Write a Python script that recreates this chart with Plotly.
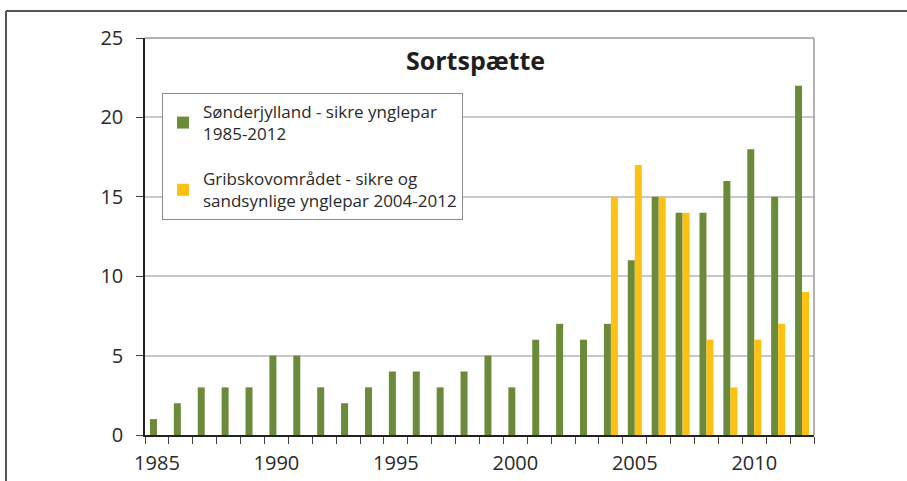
import plotly.graph_objects as go

years = list(range(1985, 2013))
sonderjylland = [1, 2, 3, 3, 3, 5, 5, 3, 2, 3, 4, 4, 3, 4, 5, 3, 6, 7, 6, 7, 11, 15, 14, 14, 16, 18, 15, 22]
gribskov_years = list(range(2004, 2013))
gribskov_vals = [15, 17, 15, 14, 6, 3, 6, 7, 9]
gribskov = [None] * (len(years) - len(gribskov_vals)) + gribskov_vals

x_tick_labels = [1985, 1990, 1995, 2000, 2005, 2010]
y_ticks = [0, 5, 10, 15, 20, 25]

name1 = "Sønderjylland - sikre ynglepar<br>1985-2012"
name2 = "Gribskovområdet - sikre og<br>sandsynlige ynglepar 2004-2012"
title_text = "Sortspætte"

GREEN = "#6b8a3a"
YELLOW = "#fdc113"
FONT = "Open Sans"
TXT = "#2a2a2a"

fig = go.Figure()
fig.add_trace(go.Bar(x=years, y=sonderjylland, name=name1, marker=dict(color=GREEN, line=dict(width=0)), legendgroup="a"))
fig.add_trace(go.Bar(x=years, y=gribskov, name=name2, marker=dict(color=YELLOW, line=dict(width=0)), legendgroup="b"))

L, R, T, B = 145, 93, 38, 46
W, H = 907, 481
pw, ph = W - L - R, H - T - B

def px(xp):
    return (xp - L) / pw

def py(yp):
    return 1 - (yp - T) / ph

fig.update_layout(
    width=W, height=H,
    margin=dict(l=L, r=R, t=T, b=B, pad=0, autoexpand=False),
    paper_bgcolor="white", plot_bgcolor="white",
    barmode="group", bargap=0.414, bargroupgap=0,
    font=dict(family=FONT, color=TXT, size=18),
    showlegend=True,
    legend=dict(
        x=px(162), y=py(93), xanchor="left", yanchor="top",
        bordercolor="#8a8a8a", borderwidth=1, bgcolor="white",
        font=dict(family=FONT, size=17, color=TXT),
        traceorder="grouped", tracegroupgap=20,
    ),
    xaxis=dict(
        range=[min(years) - 0.5, max(years) + 0.5],
        tickmode="array", tickvals=x_tick_labels, ticktext=[str(v) for v in x_tick_labels],
        ticks="outside", ticklen=0, tickcolor="#444",
        showline=True, linecolor="#222", linewidth=1.5,
        showgrid=False, zeroline=False, automargin=False,
        tickfont=dict(size=20, color=TXT),
        ticklabelstandoff=9,
        minor=dict(tickmode="linear", tick0=min(years) - 0.5, dtick=1, ticks="outside", ticklen=7, tickcolor="#444", showgrid=False),
    ),
    yaxis=dict(
        range=[0, 25], tickmode="array", tickvals=y_ticks,
        ticks="outside", ticklen=7, tickcolor="#444",
        showline=True, linecolor="#222", linewidth=1.5,
        showgrid=True, gridcolor="#c9c9c9", gridwidth=1.5,
        zeroline=False, automargin=False,
        tickfont=dict(size=20, color=TXT),
        ticklabelstandoff=9,
    ),
    annotations=[dict(
        text="<b>" + title_text + "</b>", xref="paper", yref="paper",
        x=px(475), y=py(60), xanchor="center", yanchor="middle", showarrow=False,
        font=dict(family=FONT, size=25, color="#1e1e1e"),
    )],
    shapes=[
        dict(type="line", xref="paper", yref="paper", x0=1, x1=1, y0=0, y1=1, line=dict(color="#9a9a9a", width=1.5)),
        dict(type="line", xref="paper", yref="paper", x0=0, x1=1, y0=1, y1=1, line=dict(color="#9a9a9a", width=1.5)),
        dict(type="line", xref="paper", yref="paper", x0=px(6), x1=px(920), y0=py(11), y1=py(11), line=dict(color="#555", width=2)),
        dict(type="line", xref="paper", yref="paper", x0=px(6), x1=px(6), y0=py(11), y1=py(500), line=dict(color="#555", width=2)),
    ],
)

fig.write_html("out.html", config={"displayModeBar": False}, post_script="document.body.style.margin='0';")
